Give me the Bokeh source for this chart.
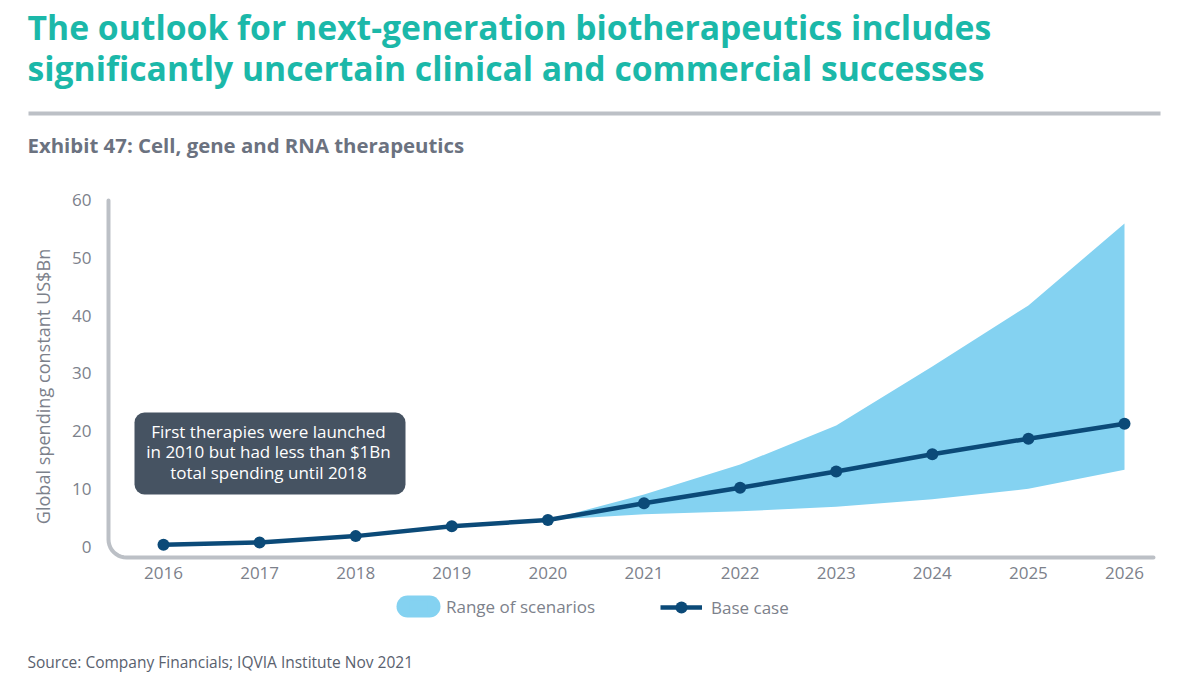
import math
from bokeh.embed import file_html
from bokeh.resources import INLINE
from bokeh.plotting import figure
from bokeh.models import (ColumnDataSource, Label, BoxAnnotation, Legend, LegendItem,
                          FixedTicker, Range1d, LinearAxis)

# ---- data ----
years = [2016, 2017, 2018, 2019, 2020, 2021, 2022, 2023, 2024, 2025, 2026]
base_case = [0.3, 0.7, 1.8, 3.5, 4.6, 7.5, 10.2, 13.0, 16.0, 18.7, 21.3]
range_years = [2020, 2021, 2022, 2023, 2024, 2025, 2026]
range_low = [4.6, 5.6, 6.1, 6.9, 8.2, 10.0, 13.3]
range_high = [4.6, 9.0, 14.2, 21.0, 31.2, 41.8, 56.0]
y_ticks = [0, 10, 20, 30, 40, 50, 60]

title_lines = ["The outlook for next-generation biotherapeutics includes",
               "significantly uncertain clinical and commercial successes"]
subtitle = "Exhibit 47: Cell, gene and RNA therapeutics"
source_note = "Source: Company Financials; IQVIA Institute Nov 2021"
y_label = "Global spending constant US$Bn"
callout_lines = ["First therapies were launched",
                 "in 2010 but had less than $1Bn",
                 "total spending until 2018"]
legend_range = "Range of scenarios"
legend_base = "Base case"

# ---- style ----
FONT = "Open Sans"
TEAL = "#1bb8a9"
GREY_TXT = "#7c818b"
AXIS = "#bcc0c6"
NAVY = "#0b4a78"
SKY = "#84d2f1"
SLATE = "#465362"
W, H = 1199, 682

# the frame fills the whole figure; scales are set so that years/values land as in the reference
PX_YEAR = 96.1
PX_UNIT = 5.767
X_2016 = 163
Y_ZERO = 546
fx0 = 2016 - X_2016 / PX_YEAR
fx1 = 2016 + (W - X_2016) / PX_YEAR
fy0 = -(H - Y_ZERO) / PX_UNIT
fy1 = Y_ZERO / PX_UNIT


def dxv(px):
    return 2016 + (px - X_2016) / PX_YEAR


def dyv(py):
    return (Y_ZERO - py) / PX_UNIT


def sy(py):
    return H - py


p = figure(width=W, height=H, output_backend="svg", toolbar_location=None,
           x_range=Range1d(fx0, fx1), y_range=Range1d(fy0, fy1),
           x_axis_location=None, y_axis_location=None,
           min_border=0, outline_line_color=None,
           background_fill_color="white", border_fill_color="white")
p.grid.visible = False

# axes
AX_LEFT, AX_BOTTOM, AX_RIGHT, AX_TOP = dxv(108), dyv(557), dxv(1153), 60
xax = LinearAxis(ticker=FixedTicker(ticks=years), fixed_location=AX_BOTTOM)
yax = LinearAxis(ticker=FixedTicker(ticks=y_ticks), fixed_location=AX_LEFT)
for ax in (xax, yax):
    ax.axis_line_color = None
    ax.major_tick_line_color = None
    ax.minor_tick_line_color = None
    ax.major_label_text_font = FONT
    ax.major_label_text_font_size = "17px"
    ax.major_label_text_color = GREY_TXT
xax.major_label_standoff = 3
yax.major_label_standoff = 11
p.add_layout(xax, "below")
p.add_layout(yax, "left")

# rounded L-shaped axis spine
r, n = 18, 10
sp_x = [AX_LEFT, AX_LEFT]
sp_y = [AX_TOP, AX_BOTTOM + r / PX_UNIT]
for i in range(1, n):
    a = math.pi / 2 * i / n
    sp_x.append(AX_LEFT + r / PX_YEAR * (1 - math.cos(a)))
    sp_y.append(AX_BOTTOM + r / PX_UNIT * (1 - math.sin(a)))
sp_x += [AX_LEFT + r / PX_YEAR, AX_RIGHT]
sp_y += [AX_BOTTOM, AX_BOTTOM]
p.line(sp_x, sp_y, line_color=AXIS, line_width=4, line_cap="round", line_join="round")

# marks
rng = ColumnDataSource(dict(x=range_years, lo=range_low, hi=range_high))
base = ColumnDataSource(dict(x=years, y=base_case))
va = p.varea("x", "lo", "hi", source=rng, fill_color=SKY)
bl = p.line("x", "y", source=base, line_color=NAVY, line_width=4.5, line_join="round")
bm = p.scatter("x", "y", source=base, size=12, fill_color=NAVY, line_color=NAVY, line_width=0)


def make_legend(items, gw, gh, loc, standoff):
    lg = Legend(items=items, location=loc, orientation="horizontal", glyph_width=gw, glyph_height=gh,
                padding=0, margin=0, border_line_color=None, background_fill_alpha=0,
                label_text_font=FONT, label_text_font_size="17px", label_text_color=GREY_TXT,
                label_standoff=standoff)
    p.add_layout(lg, "center")


# the pill behind the legend's own square swatch rounds it off
p.add_layout(BoxAnnotation(left=396, right=440, top=sy(595), bottom=sy(617),
                           left_units="screen", right_units="screen", top_units="screen", bottom_units="screen",
                           fill_color=SKY, fill_alpha=1, line_color=None, border_radius=11))
make_legend([LegendItem(label=legend_range, renderers=[va])], 22, 18, (407, sy(618)), 17)
make_legend([LegendItem(label=legend_base, renderers=[bl, bm])], 42, 30, (660, sy(622)), 9)


def text(s, px, py, size, color, style="normal", align="left", angle=0):
    p.add_layout(Label(x=px, y=sy(py), x_units="screen", y_units="screen", text=s, angle=angle,
                       text_font=FONT, text_font_size=size, text_color=color,
                       text_font_style=style, text_align=align, text_baseline="middle"))


# y axis title
text(y_label, 42, 386, "18.1px", GREY_TXT, align="center", angle=math.pi / 2)

# title block
text(title_lines[0], 27, 26, "33.7px", TEAL, "bold")
text(title_lines[1], 27, 67, "33.7px", TEAL, "bold")
p.add_layout(BoxAnnotation(left=28, right=1160, top=sy(111), bottom=sy(115),
                           left_units="screen", right_units="screen", top_units="screen", bottom_units="screen",
                           fill_color=AXIS, fill_alpha=1, line_color=None))
text(subtitle, 27, 144, "20.4px", "#6b7280", "bold")
text(source_note, 27, 661, "15.5px", "#59616e")

# callout
p.add_layout(BoxAnnotation(left=134, right=405, top=sy(412), bottom=sy(494),
                           left_units="screen", right_units="screen", top_units="screen", bottom_units="screen",
                           fill_color=SLATE, fill_alpha=1, line_color=None, border_radius=10))
for s, py in zip(callout_lines, [431, 451, 472]):
    text(s, 268, py, "17px", "white", align="center")

open("out.html", "w").write(file_html(p, INLINE))
